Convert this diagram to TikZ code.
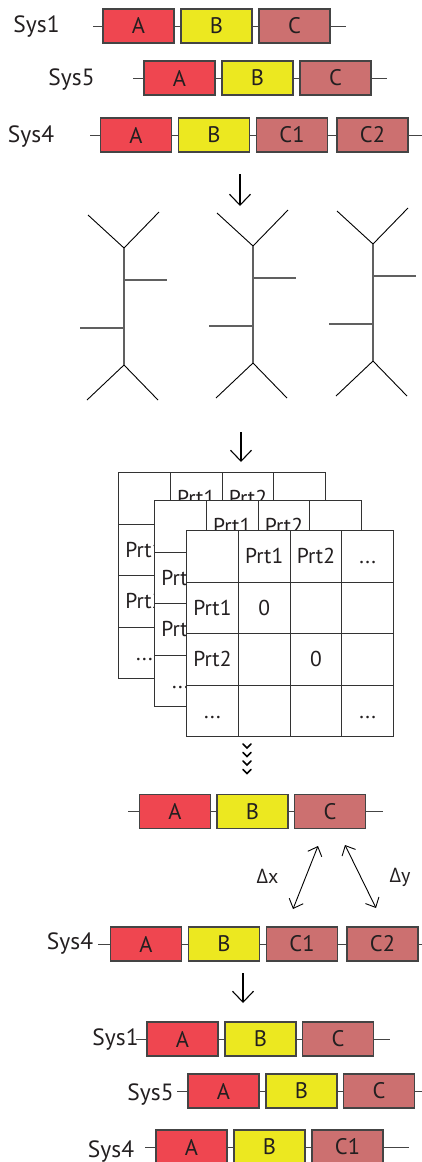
\documentclass[tikz,border=0pt]{standalone}
\usepackage{fontspec}
\setmainfont{PT Sans}
\newfontfamily\greekfont{Open Sans}
\usetikzlibrary{arrows.meta}
\usetikzlibrary{matrix}

\definecolor{geneA}{HTML}{EF4650}
\definecolor{geneB}{HTML}{ECE820}
\definecolor{geneC}{HTML}{CC7070}
\definecolor{boxline}{HTML}{444444}
\definecolor{tabline}{HTML}{333333}
\definecolor{ink}{HTML}{231F20}

% dots sitting on the baseline of the table text
\newcommand{\etc}{\vphantom{P}...}

\tikzset{
	gene/.style={draw=boxline, line width=1.1pt, minimum width=71pt, minimum height=34pt,
		inner sep=0pt, text=ink, font=\fontsize{22.5}{26}\selectfont},
	boxA/.style={gene, fill=geneA},
	boxB/.style={gene, fill=geneB},
	boxC/.style={gene, fill=geneC},
	backbone/.style={draw=boxline, line width=1pt},
	syslabel/.style={anchor=base, text=ink, font=\fontsize{23.5}{27}\selectfont},
	bone/.style={draw=gray!75!black, line width=1.4pt},
	limb/.style={draw=black, line width=0.9pt},
	flow/.style={-{Straight Barb[length=11pt,width=21pt]}, line width=1.1pt},
	delta/.style={{Straight Barb[length=8pt,width=15pt]}-{Straight Barb[length=8pt,width=15pt]}, line width=0.9pt},
	deltalabel/.style={anchor=base, text=ink, font=\fontsize{20}{24}\selectfont},
	chevron/.style={line width=1.6pt, line cap=round, line join=miter},
	prttable/.style={matrix of nodes, ampersand replacement=\&, nodes in empty cells,
		inner sep=0pt, outer sep=0pt, column sep=-1pt, row sep=-1pt,
		nodes={draw=tabline, fill=white, line width=1pt, minimum width=51.75pt,
			minimum height=51.5pt, inner sep=0pt, outer sep=0pt, anchor=center,
			text=ink, font=\fontsize{21.5}{25}\selectfont}}
}

\begin{document}
\begin{tikzpicture}[x=1pt, y=-1pt]
	\useasboundingbox (0,0) rectangle (422,1162);

	%% Input systems
	% Sys1
	\node[syslabel] (s1lab) at (36.5,32) {Sys1};
	\path (93,26) coordinate (s1st) (346,26) coordinate (s1en);
	\node[boxA] (s1a) at (138.5,26) {A};
	\node[boxB] (s1b) at (216.5,26) {B};
	\node[boxC] (s1c) at (294.5,26) {C};
	\draw[backbone] (s1st) -- (s1a) -- (s1b) -- (s1c) -- (s1en);
	% Sys5
	\node[syslabel] (s5lab) at (71.5,85) {Sys5};
	\path (133,78) coordinate (s5st) (387,78) coordinate (s5en);
	\node[boxA] (s5a) at (179.5,78) {A};
	\node[boxB] (s5b) at (257.5,78) {B};
	\node[boxC] (s5c) at (335.5,78) {C};
	\draw[backbone] (s5st) -- (s5a) -- (s5b) -- (s5c) -- (s5en);
	% Sys4
	\node[syslabel] (s4lab) at (31,142) {Sys4};
	\path (90,135) coordinate (s4st) (422,135) coordinate (s4en);
	\node[boxA] (s4a) at (136,135) {A};
	\node[boxB] (s4b) at (214,135) {B};
	\node[boxC] (s4c) at (292,135) {C1};
	\node[boxC] (s4d) at (372.5,135) {C2};
	\draw[backbone] (s4st) -- (s4a) -- (s4b) -- (s4c) -- (s4d) -- (s4en);

	%% Flow arrows
	\path
		(240,174) coordinate (dn1s) (240,206) coordinate (dn1e)
		(241,432) coordinate (dn2s) (241,462) coordinate (dn2e)
		(243,973) coordinate (dn3s) (243,1003) coordinate (dn3e);
	\draw[flow] (dn1s) -- (dn1e);
	\draw[flow] (dn2s) -- (dn2e);
	\draw[flow] (dn3s) -- (dn3e);

	%% Trees
	\foreach \dx/\dy in {0/0, 129/-2, 249/-4} {
		\begin{scope}[shift={(\dx,\dy)}]
			\path (124,248) coordinate (neck) (124,365) coordinate (hip);
			\draw[limb] (88,215) -- (neck) -- (159,212);
			\draw[limb] (87,400) -- (hip) -- (158,400);
			\draw[bone] (neck) -- (hip);
			\draw[bone] (124,280) -- (167,280); % right branch
			\draw[bone] (80,328) -- (124,328);  % left branch
		\end{scope}
	}

	%% Distance tables, back to front
	\foreach \tx/\ty/\tn in {118/472/back, 154/500/mid, 186/530/front} {
		\matrix (tab\tn) [prttable, anchor=north west] at (\tx,\ty) {
			\& Prt1 \& Prt2 \& \etc \\
			Prt1 \& 0 \& \& \\
			Prt2 \& \& 0 \& \\
			\etc \& \& \& \etc \\
		};
	}

	%% Dotted arrow
	\foreach \cy in {746, 754.5, 763, 771.5}
		\draw[chevron] (243,\cy-2) -- (247,\cy+2) -- (251,\cy-2);

	%% Consensus
	\path (128,811.5) coordinate (cnst) (383,811.5) coordinate (cnen);
	\node[boxA] (cna) at (175,811.5) {A};
	\node[boxB] (cnb) at (252.5,811.5) {B};
	\node[boxC] (cnc) at (330,811.5) {C};
	\draw[backbone] (cnst) -- (cna) -- (cnb) -- (cnc) -- (cnen);

	%% Distances
	\path
		(318,846) coordinate (dxt) (293,909) coordinate (dxb)
		(345,845) coordinate (dyt) (376,908) coordinate (dyb);
	\draw[delta] (dxt) -- (dxb);
	\draw[delta] (dyt) -- (dyb);
	\node[deltalabel] (dxlab) at (267.5,883) {{\greekfont Δ}x};
	\node[deltalabel] (dylab) at (400,882) {{\greekfont Δ}y};

	% Sys4 compared
	\node[syslabel] (q4lab) at (70,949) {Sys4};
	\path (98,944) coordinate (q4st) (422,944) coordinate (q4en);
	\node[boxA] (q4a) at (146,944) {A};
	\node[boxB] (q4b) at (224,944) {B};
	\node[boxC] (q4c) at (302,944) {C1};
	\node[boxC] (q4d) at (382.5,944) {C2};
	\draw[backbone] (q4st) -- (q4a) -- (q4b) -- (q4c) -- (q4d) -- (q4en);

	%% Result systems
	% Sys1
	\node[syslabel] (r1lab) at (115.5,1045) {Sys1};
	\path (136,1039) coordinate (r1st) (390,1039) coordinate (r1en);
	\node[boxA] (r1a) at (182.5,1039) {A};
	\node[boxB] (r1b) at (260.5,1039) {B};
	\node[boxC] (r1c) at (338,1039) {C};
	\draw[backbone] (r1st) -- (r1a) -- (r1b) -- (r1c) -- (r1en);
	% Sys5
	\node[syslabel] (r5lab) at (150.5,1100) {Sys5};
	\path (177,1091) coordinate (r5st) (422,1091) coordinate (r5en);
	\node[boxA] (r5a) at (223.5,1091) {A};
	\node[boxB] (r5b) at (301.5,1091) {B};
	\node[boxC] (r5c) at (379,1091) {C};
	\draw[backbone] (r5st) -- (r5a) -- (r5b) -- (r5c) -- (r5en);
	% Sys4
	\node[syslabel] (r4lab) at (111,1157) {Sys4};
	\path (145,1147) coordinate (r4st) (409,1147) coordinate (r4en);
	\node[boxA] (r4a) at (191.5,1147) {A};
	\node[boxB] (r4b) at (269.5,1147) {B};
	\node[boxC] (r4c) at (347.5,1147) {C1};
	\draw[backbone] (r4st) -- (r4a) -- (r4b) -- (r4c) -- (r4en);
\end{tikzpicture}
\end{document}
